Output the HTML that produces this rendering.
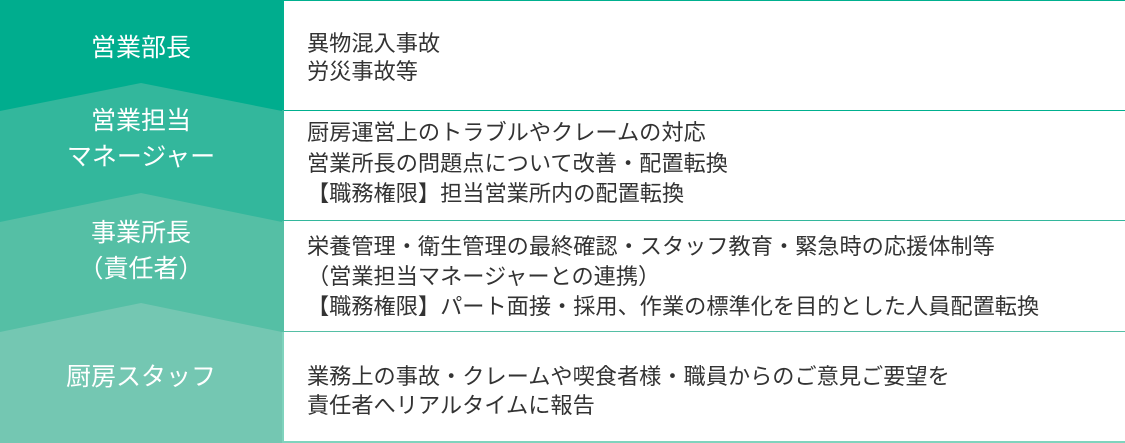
<!DOCTYPE html>
<html><head><meta charset="utf-8"><style>
body{margin:0;width:1125px;height:443px;overflow:hidden;background:#fff;font-family:"Liberation Sans","Noto Sans CJK JP",sans-serif;position:relative}
.t{position:absolute;left:307px;font-size:22.2px;color:#333;line-height:29px;white-space:nowrap}
.l{position:absolute;left:0;width:282px;text-align:center;color:#fff;font-size:25px;line-height:36px}
.b{position:absolute;left:282px;width:841px;border:1px solid;border-left:2px solid}
</style></head><body>
<svg width="282" height="443" style="position:absolute;left:0;top:0">
<rect x="0" y="0" width="282" height="443" fill="#74c7b2"/>
<polygon points="0,0 282,0 282,332 141,303 0,332" fill="#55bfa5"/>
<polygon points="0,0 282,0 282,222 141,193 0,222" fill="#33b79c"/>
<polygon points="0,0 282,0 282,111 141,83 0,111" fill="#00ad8e"/>
</svg>
<div class="b" style="top:0;height:109px;border-color:#00b08f"></div>
<div class="b" style="top:110px;height:110px;border-color:#33b79c;border-top:none"></div>
<div class="b" style="top:221px;height:110px;border-color:#55bfa5;border-top:none"></div>
<div class="b" style="top:332px;height:109px;border-color:#7fd3bd;border-top:none;border-bottom:2px solid #7fd3bd"></div>
<div class="l" style="top:30px">営業部長</div>
<div class="l" style="top:103px">営業担当<br>マネージャー</div>
<div class="l" style="top:215px">事業所長<br>（責任者）</div>
<div class="l" style="top:359px">厨房スタッフ</div>
<div class="t" style="top:30px;line-height:28px">異物混入事故<br>労災事故等</div>
<div class="t" style="top:118px;line-height:30.5px">厨房運営上のトラブルやクレームの対応<br>営業所長の問題点について改善・配置転換<br>【職務権限】担当営業所内の配置転換</div>
<div class="t" style="top:232px;line-height:30px">栄養管理・衛生管理の最終確認・スタッフ教育・緊急時の応援体制等<br>（営業担当マネージャーとの連携）<br>【職務権限】パート面接・採用、作業の標準化を目的とした人員配置転換</div>
<div class="t" style="top:362px">業務上の事故・クレームや喫食者様・職員からのご意見ご要望を<br>責任者へリアルタイムに報告</div>
</body></html>
